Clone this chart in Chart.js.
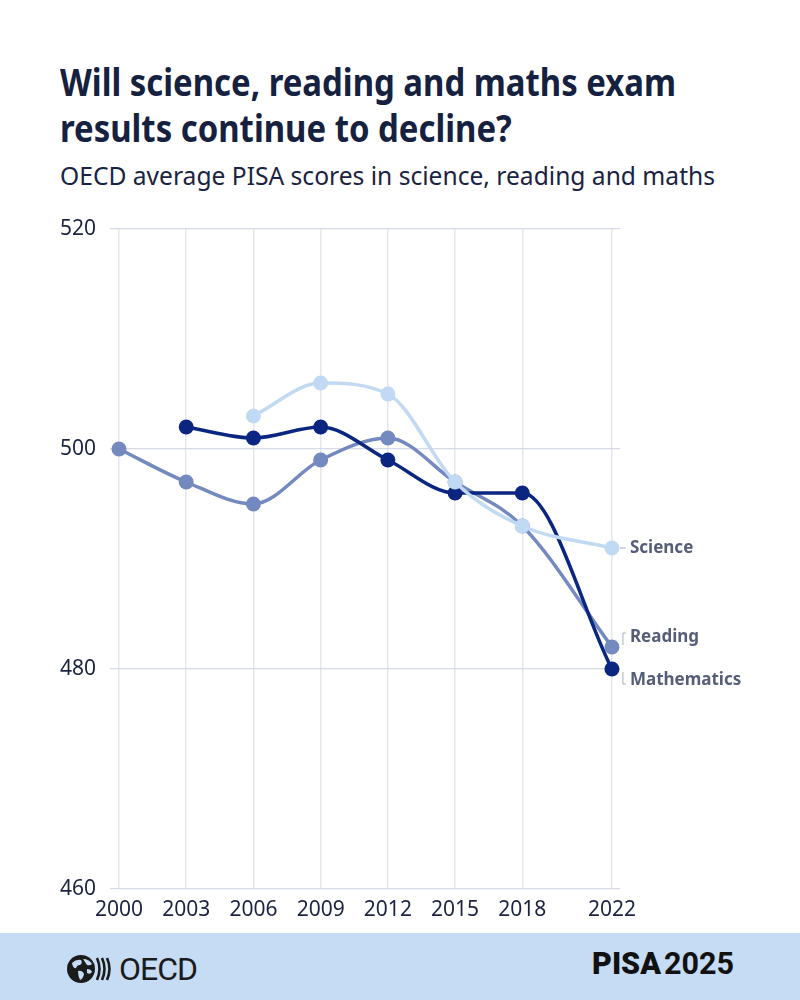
<!DOCTYPE html>
<html>
<head>
<meta charset="utf-8">
<script src="https://cdn.jsdelivr.net/npm/chart.js@4.4.1/dist/chart.umd.min.js"></script>
<style>
  html, body { margin: 0; padding: 0; background: #fff; }
  body { width: 800px; height: 1000px; position: relative; overflow: hidden; font-family: "Noto Sans", sans-serif; }
  .line { position: absolute; left: 60px; white-space: nowrap; transform-origin: left center; }
  .title { font-size: 37px; font-weight: 700; color: #15213f; line-height: 46px; }
  .sub { font-size: 25px; font-weight: 400; color: #1a2341; line-height: 30px; }
  #wrap { position: absolute; left: 60px; top: 201px; width: 740px; height: 729px; }
  #footer { position: absolute; left: 0; top: 933px; width: 800px; height: 67px; background: #c6dbf4; }
  #oecd { position: absolute; left: 66px; top: 17px; display: flex; align-items: center; }
  #oecd span { font-family: Roboto, sans-serif; font-size: 32px; color: #1b1b1b; margin-left: 3px; letter-spacing: -1px; }
  #pisa { position: absolute; left: 592px; top: 12px; font-family: Roboto, sans-serif; font-size: 31px; color: #111; white-space: nowrap; transform-origin: left center; }
  #pisa b { font-weight: 900; margin-right: 3px; }
  #pisa i { font-style: normal; font-weight: 700; }
</style>
</head>
<body>
<div class="line title" id="t1" style="top:59px">Will science, reading and maths exam</div>
<div class="line title" id="t2" style="top:105px">results continue to decline?</div>
<div class="line sub" id="st" style="top:160px">OECD average PISA scores in science, reading and maths</div>

<div id="wrap"><canvas id="pisa-chart"></canvas></div>

<div id="footer">
  <div id="oecd">
    <svg width="50" height="32" viewBox="0 0 50 32">
      <circle cx="15" cy="16" r="14" fill="#1b1b1b"/>
      <path d="M6 10 q4 -4 9 -3 q2 3 -1 5 q-3 0 -4 3 q-3 1 -4 -5z" fill="#c6dbf4"/>
      <path d="M17 6 q6 0 9 5 q-2 2 -5 1 q-2 -3 -4 -6z" fill="#c6dbf4"/>
      <path d="M12 18 q4 -1 6 3 q-1 5 -4 6 q-2 -4 -2 -9z" fill="#c6dbf4"/>
      <path d="M21 16 q4 0 5 3 q-2 3 -5 1z" fill="#c6dbf4"/>
      <path d="M31 5 q5 11 0 22" stroke="#1b1b1b" stroke-width="2.6" fill="none"/>
      <path d="M36 5 q5 11 0 22" stroke="#1b1b1b" stroke-width="2.6" fill="none"/>
      <path d="M41 5 q5 11 0 22" stroke="#1b1b1b" stroke-width="2.6" fill="none"/>
    </svg>
    <span>OECD</span>
  </div>
  <div id="pisa"><b>PISA</b><i>2025</i></div>
</div>

<script>
// survey years and scores (null = not measured that year)
const years = [2000, 2003, 2006, 2009, 2012, 2015, 2018, 2022];
const science = [null, null, 503, 506, 505, 497, 493, 491];
const mathematics = [null, 502, 501, 502, 499, 496, 496, 480];
const reading = [500, 497, 495, 499, 501, 497, 493, 482];
const seriesNames = ["Science", "Mathematics", "Reading"];
const yTicks = [460, 480, 500, 520];

// squeeze the heading text to the width of the condensed original
const fit = (id, w) => {
  const el = document.getElementById(id);
  const s = w / el.getBoundingClientRect().width;
  el.style.transform = "scaleX(" + s + ")";
  return s;
};
const s1 = fit("t1", 616);
document.getElementById("t2").style.transform = "scaleX(" + s1 + ")";
fit("st", 655);
fit("pisa", 142);

const toPoints = (vals) =>
  years.map((yr, i) => (vals[i] === null ? null : { x: yr, y: vals[i] })).filter(Boolean);

const endLabels = {
  id: "endLabels",
  afterDatasetsDraw(chart, args, opts) {
    const { ctx } = chart;
    const x = chart.scales.x, y = chart.scales.y;
    ctx.save();
    chart.data.datasets.forEach((ds) => {
      const last = ds.data[ds.data.length - 1];
      const px = x.getPixelForValue(last.x);
      const py = y.getPixelForValue(last.y);
      const shift = opts.shift[ds.label] || 0;
      const ly = py + shift;
      ctx.strokeStyle = "#a9aebb";
      ctx.lineWidth = 1;
      ctx.beginPath();
      if (shift === 0) {
        ctx.moveTo(px + 8, py);
        ctx.lineTo(px + 14, py);
      } else if (shift < 0) {
        ctx.moveTo(px + 11, py - 2);
        ctx.lineTo(px + 11, ly - 4);
        ctx.lineTo(px + 14, ly - 4);
      } else {
        ctx.moveTo(px + 11, py + 3);
        ctx.lineTo(px + 11, ly + 4);
        ctx.lineTo(px + 14, ly + 4);
      }
      ctx.stroke();
      ctx.fillStyle = "#565d78";
      ctx.font = "bold 17px 'Noto Sans'";
      ctx.textBaseline = "middle";
      ctx.textAlign = "left";
      ctx.fillText(ds.label, px + 18, ly);
    });
    ctx.restore();
  },
};

const mkSet = (label, vals, color) => ({
  label: label,
  data: toPoints(vals),
  borderColor: color,
  backgroundColor: color,
  pointBackgroundColor: color,
  borderWidth: 3.5,
  pointRadius: 7.5,
  pointBorderWidth: 0,
  pointHoverRadius: 7.5,
  cubicInterpolationMode: "monotone",
  clip: false,
});

new Chart(document.getElementById("pisa-chart"), {
  type: "line",
  data: {
    datasets: [
      mkSet(seriesNames[0], science, "#c2d9f4"),
      mkSet(seriesNames[1], mathematics, "#0b2680"),
      mkSet(seriesNames[2], reading, "#7489c0"),
    ],
  },
  options: {
    responsive: true,
    maintainAspectRatio: false,
    animation: false,
    layout: { padding: { top: 28, right: 180, bottom: 0, left: 0 } },
    plugins: {
      legend: { display: false },
      tooltip: { enabled: false },
      endLabels: { shift: { Science: 0, Reading: -10, Mathematics: 11 } },
    },
    scales: {
      x: {
        type: "linear",
        min: 2000,
        max: 2022.36,
        afterBuildTicks: (scale) => {
          scale.ticks = years.map((v) => ({ value: v }));
        },
        afterFit: (scale) => {
          scale.height = 41;
        },
        ticks: {
          callback: (v) => String(v),
          color: "#1b2341",
          font: { family: "Noto Sans", size: 21 },
          padding: 8,
          maxRotation: 0,
          autoSkip: false,
        },
        grid: { color: "#e6e7ed", lineWidth: 1.5, drawTicks: false },
        border: { display: false },
      },
      y: {
        min: 460,
        max: 520,
        afterBuildTicks: (scale) => {
          scale.ticks = yTicks.map((v) => ({ value: v }));
        },
        afterFit: (scale) => {
          scale.width = 59;
        },
        ticks: {
          color: "#1b2341",
          font: { family: "Noto Sans", size: 21 },
          crossAlign: "far",
        },
        grid: { color: "#d6dae6", lineWidth: 1.2, tickLength: 9 },
        border: { display: false },
      },
    },
  },
  plugins: [endLabels],
});
</script>
</body>
</html>
